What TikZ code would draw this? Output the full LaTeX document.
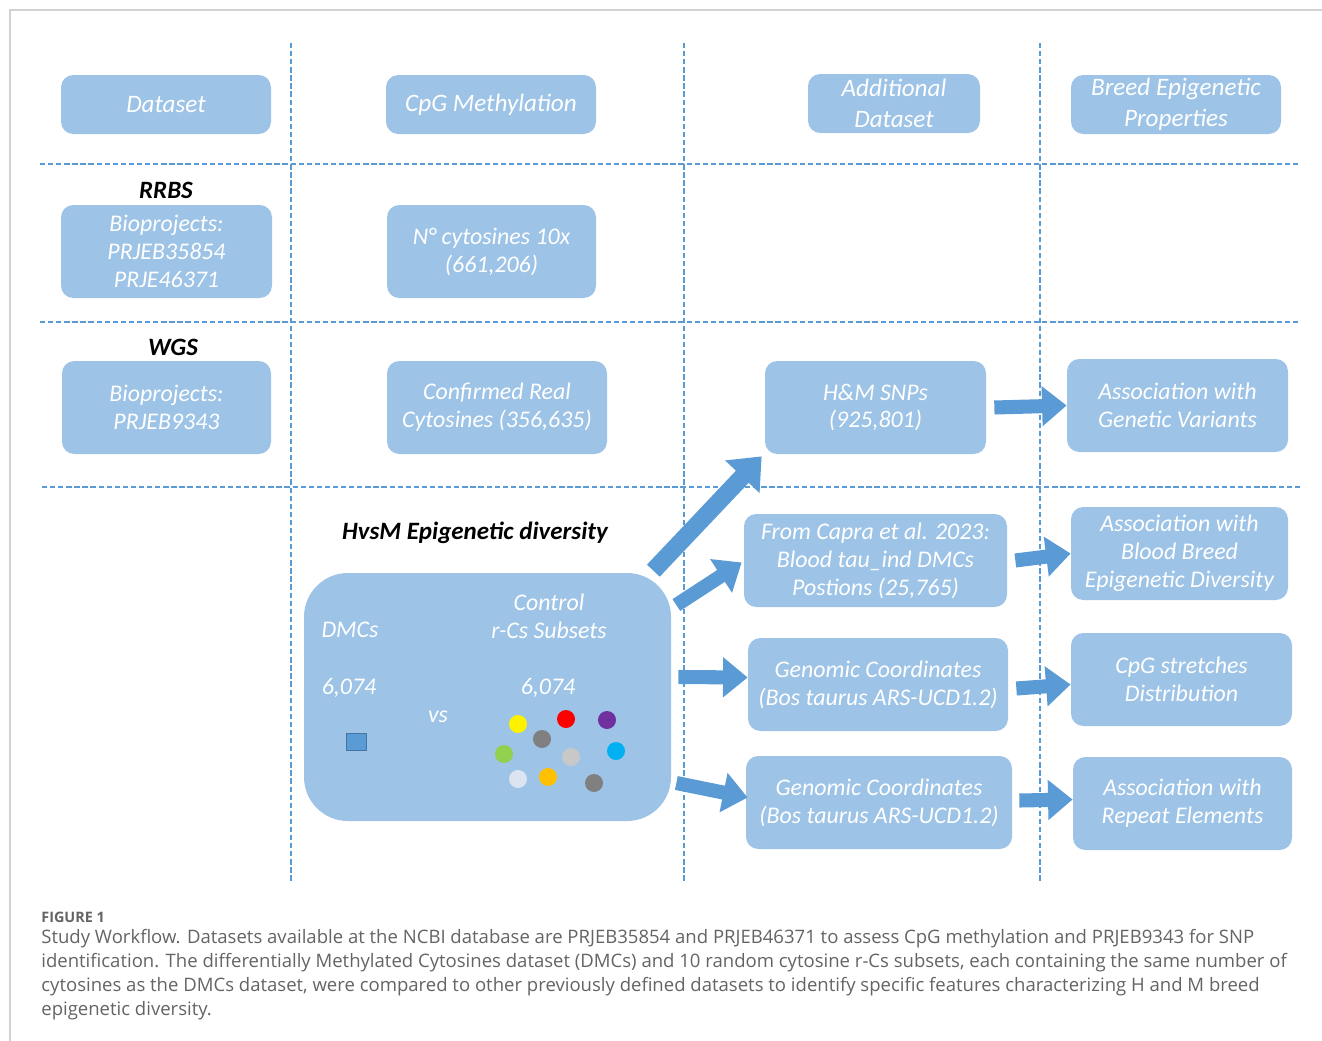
\documentclass[tikz,border=0pt]{standalone}
\usepackage{fontspec}
\setmainfont{Carlito}
\newfontfamily\capfont{Open Sans}
\usetikzlibrary{arrows.meta}

\definecolor{boxblue}{RGB}{157,195,230}
\definecolor{arrowblue}{RGB}{91,155,213}
\definecolor{framegray}{RGB}{210,210,210}
\definecolor{capgray}{RGB}{100,100,100}

\newcommand{\wfboxfont}{\fontsize{13.6}{15.9}\selectfont\itshape}
\newcommand{\wfheadfont}{\fontsize{14.3}{17.6}\selectfont\itshape}

\begin{document}
\begin{tikzpicture}
        [x=0.02cm, y=-0.02cm,
        box/.style={rounded corners=7pt, fill=boxblue, text=white, align=center, font=\wfboxfont, inner sep=0pt},
        headbox/.style={box, font=\wfheadfont},
        boxsize/.style 2 args={minimum width=#1*0.02cm, minimum height=#2*0.02cm},
        gridline/.style={arrowblue, line width=1pt, dash pattern=on 3pt off 1.6pt},
        bigarrow/.style={arrowblue, line width=8pt, -{Triangle[length=14pt, width=22pt]}},
        rowtitle/.style={font=\fontsize{14.2}{16}\selectfont\bfseries\itshape},
        intext/.style={text=white, font=\wfboxfont},
        rcs/.style={circle, inner sep=0pt, minimum size=18*0.02cm}]

        \useasboundingbox (0,0) rectangle (1322,1041);

        % frame of the figure
        \draw[framegray, line width=0.9pt] (1322,10) -- (10,10) -- (10,1041);

        % dashed grid
        \draw[gridline] (291,43) -- (291,882);
        \draw[gridline] (684,43) -- (684,882);
        \draw[gridline] (1040,43) -- (1040,882);
        \draw[gridline] (40,164) -- (1300,164);
        \draw[gridline] (40,322) -- (1300,322);
        \draw[gridline] (42,487) -- (1301,487);

        % column headers
        \node[headbox, boxsize={210}{59}] (dataset) at (166,104.5) {Dataset};
        \node[headbox, boxsize={210}{59}] (cpg) at (491,104.5) {CpG Methylation};
        \node[headbox, boxsize={172}{59}] (addl) at (894,103.5) {Additional\\Dataset};
        \node[headbox, boxsize={210}{59}] (breed) at (1176,104.5) {Breed Epigenetic\\Properties};

        % RRBS row
        \node[rowtitle] (rrbstitle) at (166,190) {RRBS};
        \node[box, boxsize={211}{93}] (rrbs) at (166.5,251.5) {Bioprojects:\\PRJEB35854\\PRJE46371};
        \node[box, boxsize={209}{93}] (ncyt) at (491.5,251.5) {N° cytosines 10x\\(661,206)};

        % WGS row
        \node[rowtitle] (wgstitle) at (173,347) {WGS};
        \node[box, boxsize={209}{93}] (wgs) at (166.5,407.5) {Bioprojects:\\PRJEB9343};
        \node[box, boxsize={220}{93}] (conf) at (497,407.5) {Confirmed Real\\Cytosines (356,635)};
        \node[box, boxsize={221}{93}] (hm) at (875.5,407.5) {H\&M SNPs\\(925,801)};
        \node[box, boxsize={221}{93}] (genvar) at (1177.5,405.5) {Association with\\Genetic Variants};

        % HvsM block
        \node[rowtitle] (hvsm) at (475,533) {HvsM Epigenetic diversity};
        \node[box, boxsize={367}{248}, rounded corners=25pt] (big) at (487.5,697) {};
        \node[intext] (dmcs) at (350,630) {DMCs};
        \node[intext, align=center] (ctrl) at (549,616) {Control\\r-Cs Subsets};
        \node[intext] (ndmc) at (349,688) {6,074};
        \node[intext] (nctrl) at (548,688) {6,074};
        \node[intext] (vs) at (438,717) {vs};
        \node[draw=arrowblue!75!black, fill=arrowblue, inner sep=0pt,
              minimum width=20*0.02cm, minimum height=17*0.02cm] (sq) at (356,742) {};

        % random cytosine subsets
        \node[rcs, fill=yellow] (c1) at (518,724) {};
        \node[rcs, fill=red] (c2) at (566,719) {};
        \node[rcs, fill={rgb,255:red,112;green,48;blue,160}] (c3) at (607,720) {};
        \node[rcs, fill=gray] (c4) at (542,739) {};
        \node[rcs, fill={rgb,255:red,146;green,208;blue,80}] (c5) at (504,754) {};
        \node[rcs, fill={rgb,255:red,200;green,200;blue,200}] (c6) at (571,757) {};
        \node[rcs, fill={rgb,255:red,0;green,176;blue,240}] (c7) at (616,751) {};
        \node[rcs, fill={rgb,255:red,220;green,228;blue,242}] (c8) at (518,779) {};
        \node[rcs, fill={rgb,255:red,255;green,192;blue,0}] (c9) at (548,777) {};
        \node[rcs, fill=gray] (c10) at (594,783) {};

        % additional datasets
        \node[box, boxsize={263}{93}] (capra) at (875.5,560.5) {From Capra et al. 2023:\\Blood tau\_ind DMCs\\Postions (25,765)};
        \node[box, boxsize={260}{93}] (gc1) at (878,684.5) {Genomic Coordinates\\(Bos taurus ARS-UCD1.2)};
        \node[box, boxsize={266}{93}] (gc2) at (879,802.5) {Genomic Coordinates\\(Bos taurus ARS-UCD1.2)};

        % breed epigenetic properties
        \node[box, boxsize={217}{93}] (blood) at (1179.5,553.5) {Association with\\Blood Breed\\Epigenetic Diversity};
        \node[box, boxsize={221}{93}] (cpgstr) at (1181.5,679.5) {CpG stretches\\Distribution};
        \node[box, boxsize={219}{93}] (repeat) at (1182.5,803.5) {Association with\\Repeat Elements};

        % arrows out of the HvsM block
        \draw[bigarrow, line width=10pt, -{Triangle[length=16pt, width=26pt]}]
            ([shift={(-18,-2)}]big.north east) -- ([shift={(-3,2)}]hm.south west);
        \draw[bigarrow] ([shift={(5,-92)}]big.east) -- ([shift={(-2,2)}]capra.west);
        \draw[bigarrow] ([shift={(7,-20)}]big.east) -- ([shift={(0,-7)}]gc1.west);
        \draw[bigarrow] ([shift={(5,86)}]big.east) -- ([shift={(2,-5)}]gc2.west);

        % arrows into the last column
        \draw[bigarrow] ([xshift=8*0.02cm]hm.east) -- (genvar.west);
        \draw[bigarrow] ([xshift=8*0.02cm]capra.east) -- (blood.west);
        \draw[bigarrow] ([shift={(8,4)}]gc1.east) -- (cpgstr.west |- gc1.east);
        \draw[bigarrow] ([shift={(7,-2)}]gc2.east) -- ([shift={(0,-4)}]repeat.west);

        % caption
        \node[anchor=base west, text=capgray, inner sep=0pt,
              font=\capfont\fontsize{8.2}{10}\selectfont\bfseries] (fig) at (41,922) {FIGURE 1};
        \node[anchor=base west, text=capgray, align=left, inner sep=0pt,
              font=\capfont\fontsize{10.55}{13.6}\selectfont] (caption) at (41,1015)
            {Study Workflow. Datasets available at the NCBI database are PRJEB35854 and PRJEB46371 to assess CpG methylation and PRJEB9343 for SNP\\
             identification. The differentially Methylated Cytosines dataset (DMCs) and 10 random cytosine r-Cs subsets, each containing the same number of\\
             cytosines as the DMCs dataset, were compared to other previously defined datasets to identify specific features characterizing H and M breed\\
             epigenetic diversity.};
    \end{tikzpicture}
\end{document}
